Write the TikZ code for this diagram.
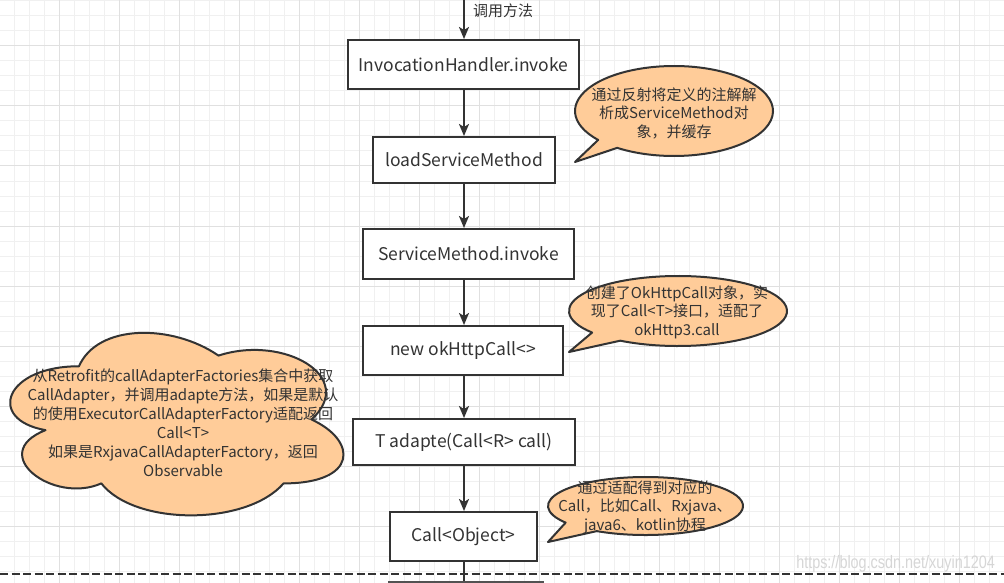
\documentclass[tikz,border=0pt]{standalone}
\usepackage{fontspec}
\usepackage{graphicx}
\setmainfont{Noto Sans CJK SC}
\newfontfamily\wmfont{Liberation Sans}
\usetikzlibrary{arrows.meta}
\definecolor{ln}{HTML}{333333}
\definecolor{txt}{HTML}{333333}
\definecolor{cfill}{HTML}{FFCC99}
\definecolor{gminor}{HTML}{F0F0F0}
\definecolor{gmajor}{HTML}{E0E0E0}
\definecolor{wmark}{HTML}{D6D6D6}
\begin{document}
\begin{tikzpicture}[x=1pt,y=-1pt,
  box/.style={draw=ln, line width=2pt, fill=white, text=txt, inner sep=0pt,
    font=\fontsize{17.5}{20}\selectfont},
  arr/.style={draw=ln, line width=2pt, -{Stealth[length=12pt,width=10pt,inset=3pt]}},
  bubble/.style={draw=ln, line width=2pt, fill=cfill, line join=round},
  btext/.style={text=txt, align=center, inner sep=0pt,
    font=\fontsize{15}{18.5}\selectfont},
  ctext/.style={text=txt, align=center, inner sep=0pt,
    font=\fontsize{15}{19}\selectfont}]
\fill[white] (0,0) rectangle (1004,583);
\useasboundingbox (0,0) rectangle (1004,583);
% grid
\foreach \x in {14.5,29.5,...,1004} \draw[gminor, line width=1pt] (\x,0) -- (\x,583);
\foreach \y in {1,16,...,583} \draw[gminor, line width=1pt] (0,\y) -- (1004,\y);
\foreach \x in {59.5,119.5,...,1004} \draw[gmajor, line width=1pt] (\x,0) -- (\x,583);
\foreach \y in {46,106,...,583} \draw[gmajor, line width=1pt] (0,\y) -- (1004,\y);

% axis coordinates
\coordinate (ax) at (464,0);
\coordinate (bot) at (464,583);

% boxes
\node[box, minimum width=231pt, minimum height=49pt] (b1) at (463.5,64.5) {InvocationHandler.invoke};
\node[box, minimum width=182pt, minimum height=46pt] (b2) at (464,160) {loadServiceMethod};
\node[box, minimum width=211pt, minimum height=50pt] (b3) at (468.5,254) {ServiceMethod.invoke};
\node[box, minimum width=200pt, minimum height=49pt] (b4) at (463,350.5) {new okHttpCall<>};
\node[box, minimum width=222pt, minimum height=46pt] (b5) at (464,442) {T adapte(Call<R> call)};
\node[box, minimum width=147pt, minimum height=49pt] (b6) at (463.5,536.5) {Call<Object>};

% arrows
\draw[arr] (ax) -- (ax |- b1.north);
\node[text=txt, font=\fontsize{15}{18}\selectfont, anchor=west, inner sep=0pt] (lbl) at (473,11) {调用方法};
\draw[arr] (b1.south -| ax) -- (b2.north -| ax);
\draw[arr] (b2.south -| ax) -- (b3.north -| ax);
\draw[arr] (b3.south -| ax) -- (b4.north -| ax);
\draw[arr] (b4.south -| ax) -- (b5.north -| ax);
\draw[arr] (b5.south -| ax) -- (b6.north -| ax);

% bottom
\draw[ln, line width=2pt, dash pattern=on 8pt off 3.5pt] (0,573.5) -- (1004,573.5);
\draw[ln, line width=2pt] (b6.south -| ax) -- (bot);
\draw[ln!85, line width=2pt] (389,590) -- (389,582) -- (543,582) -- (543,590);

% callout 1
\draw[bubble] (674,111) ++(125:99 and 45) arc[start angle=125, end angle=-220, x radius=99, y radius=45] -- (575,162) -- cycle;
\node[btext] (t1) at (674,113) {通过反射将定义的注解解\\析成ServiceMethod对\\象，并缓存};

% callout 2
\draw[bubble] (678,311) ++(122:109 and 35) arc[start angle=122, end angle=-218, x radius=109, y radius=35] -- (569,352) -- cycle;
\node[btext] (t2) at (677,312) {创建了OkHttpCall对象，实\\现了Call<T>接口，适配了\\okHttp3.call};

% callout 3
\draw[bubble] (645.5,506) ++(120:97.5 and 29) arc[start angle=120, end angle=-215, x radius=97.5, y radius=29] -- (548,542) -- cycle;
\node[btext] (t3) at (645,507) {通过适配得到对应的\\Call，比如Call、Rxjava、\\java6、kotlin协程};

% cloud
\begin{scope}[shift={(-14,313)}, x=372pt, y=-213pt]
\draw[bubble] (0.25,0.25) .. controls (0.05,0.25) and (0,0.5) .. (0.16,0.55)
  .. controls (0,0.66) and (0.18,0.9) .. (0.31,0.8)
  .. controls (0.4,1) and (0.7,1) .. (0.8,0.8)
  .. controls (1,0.8) and (1,0.6) .. (0.875,0.5)
  .. controls (1,0.3) and (0.8,0.1) .. (0.625,0.2)
  .. controls (0.5,0.05) and (0.3,0.05) .. (0.25,0.25) -- cycle;
\end{scope}
\node[ctext] (t4) at (183,422.5) {从Retrofit的callAdapterFactories集合中获取\\CallAdapter，并调用adapte方法，如果是默认\\的使用ExecutorCallAdapterFactory适配返回\\Call<T>\\如果是RxjavaCallAdapterFactory，返回\\Observable};

% watermark
\node[text=wmark, inner sep=0pt, anchor=east] (wm) at (995,564) {\scalebox{0.8}[1]{\wmfont\fontsize{18}{18}\selectfont https://blog.csdn.net/xuyin1204}};
\end{tikzpicture}
\end{document}
